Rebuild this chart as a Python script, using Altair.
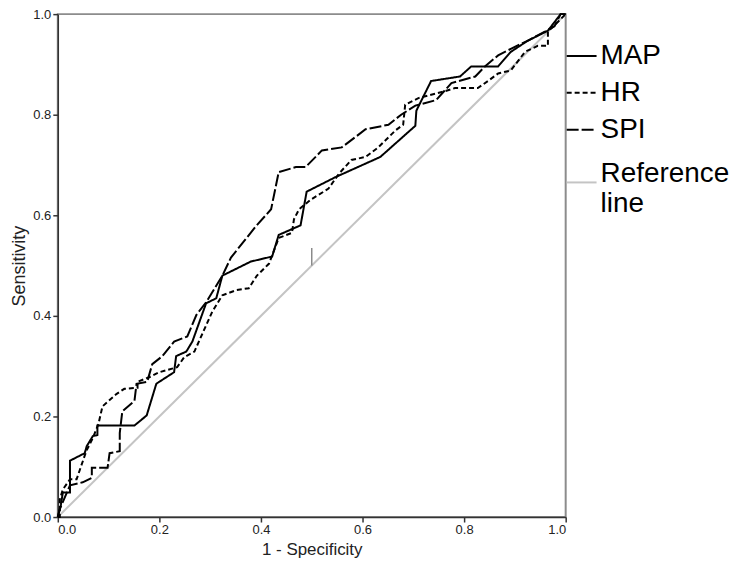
import altair as alt
import pandas as pd

# ROC curve points (1 - Specificity, Sensitivity)
map_x = [0, 0.006, 0.01, 0.024, 0.024, 0.053, 0.057, 0.069, 0.078, 0.078, 0.151, 0.175, 0.194, 0.2, 0.229,
         0.233, 0.253, 0.265, 0.292, 0.312, 0.324, 0.38, 0.422, 0.435, 0.478, 0.49, 0.547, 0.635, 0.704, 0.706,
         0.735, 0.792, 0.814, 0.867, 0.892, 0.925, 0.965, 0.99, 1.0]
map_y = [0, 0.024, 0.049, 0.049, 0.112, 0.127, 0.141, 0.161, 0.163, 0.182, 0.182, 0.202, 0.265, 0.269, 0.288,
         0.32, 0.329, 0.349, 0.425, 0.435, 0.48, 0.508, 0.518, 0.561, 0.58, 0.647, 0.676, 0.716, 0.778, 0.808,
         0.867, 0.876, 0.896, 0.896, 0.925, 0.947, 0.967, 1.0, 1.0]

hr_x = [0, 0.004, 0.004, 0.01, 0.024, 0.037, 0.053, 0.057, 0.069, 0.08, 0.088, 0.116, 0.131, 0.157, 0.157,
        0.18, 0.2, 0.235, 0.249, 0.269, 0.284, 0.304, 0.324, 0.351, 0.376, 0.392, 0.416, 0.435, 0.461, 0.465,
        0.475, 0.498, 0.533, 0.553, 0.578, 0.606, 0.631, 0.665, 0.68, 0.684, 0.71, 0.763, 0.782, 0.827, 0.847,
        0.867, 0.892, 0.92, 0.945, 0.965, 0.965, 0.984, 1.0]
hr_y = [0, 0, 0.035, 0.055, 0.075, 0.075, 0.122, 0.133, 0.157, 0.185, 0.22, 0.245, 0.255, 0.257, 0.269,
        0.278, 0.288, 0.298, 0.318, 0.329, 0.363, 0.408, 0.441, 0.451, 0.455, 0.48, 0.504, 0.555, 0.565, 0.592,
        0.612, 0.631, 0.653, 0.682, 0.71, 0.716, 0.735, 0.769, 0.78, 0.82, 0.833, 0.847, 0.853, 0.853, 0.867,
        0.882, 0.888, 0.925, 0.937, 0.937, 0.965, 0.984, 1.0]

spi_x = [0, 0.004, 0.024, 0.049, 0.067, 0.067, 0.098, 0.102, 0.122, 0.122, 0.127, 0.151, 0.155, 0.176, 0.186,
         0.206, 0.229, 0.255, 0.273, 0.292, 0.324, 0.341, 0.39, 0.42, 0.435, 0.469, 0.488, 0.52, 0.559, 0.606,
         0.651, 0.676, 0.704, 0.745, 0.775, 0.822, 0.841, 0.867, 0.892, 0.925, 0.959, 0.978, 0.99, 1.0]
spi_y = [0, 0.016, 0.063, 0.069, 0.078, 0.098, 0.098, 0.127, 0.131, 0.167, 0.21, 0.231, 0.265, 0.269, 0.304,
         0.32, 0.349, 0.359, 0.402, 0.427, 0.48, 0.516, 0.578, 0.612, 0.686, 0.696, 0.696, 0.729, 0.735, 0.771,
         0.78, 0.8, 0.818, 0.829, 0.863, 0.876, 0.896, 0.918, 0.931, 0.947, 0.965, 0.976, 1.0, 1.0]

ref_x = [0, 1]
ref_y = [0, 1]

# small marker on the reference line
mark_x = [0.5]
mark_y = [0.5]
mark_y2 = [0.535]

series_names = ["MAP", "HR", "SPI"]
series_dashes = [[1, 0], [5, 3], [12, 3]]
ref_name = "Reference line"
ref_color = "#c4c4c4"
tick_values = [0, 0.2, 0.4, 0.6, 0.8, 1.0]

rows = []
for name, xs, ys in [("MAP", map_x, map_y), ("HR", hr_x, hr_y), ("SPI", spi_x, spi_y)]:
    for i, (a, b) in enumerate(zip(xs, ys)):
        rows.append({"series": name, "fpr": a, "tpr": b, "i": i})
df = pd.DataFrame(rows)
ref_df = pd.DataFrame({"ref": [ref_name] * len(ref_x), "fpr": ref_x, "tpr": ref_y})
mark_df = pd.DataFrame({"x": mark_x, "y": mark_y, "y2": mark_y2})

xscale = alt.Scale(domain=[0, 1], nice=False)
yscale = alt.Scale(domain=[0, 1], nice=False)
narrow = "'Liberation Sans Narrow', 'Arial Narrow', 'Liberation Sans', sans-serif"

x_enc = alt.X("fpr:Q", scale=xscale,
              axis=alt.Axis(title="1 - Specificity", values=tick_values, format=".1f",
                            titlePadding=5, titleFontSize=17))
y_enc = alt.Y("tpr:Q", scale=yscale,
              axis=alt.Axis(title="Sensitivity", values=tick_values, format=".1f",
                            titlePadding=4, titleFontSize=18))

ref_line = alt.Chart(ref_df).mark_line(strokeWidth=2).encode(
    x=x_enc, y=y_enc,
    color=alt.Color("ref:N", scale=alt.Scale(domain=[ref_name], range=[ref_color]),
                    legend=alt.Legend(orient="none", legendX=510, legendY=153, title=None,
                                      symbolType="stroke", symbolSize=900, symbolStrokeWidth=2,
                                      labelFontSize=28, labelFont="Liberation Sans",
                                      labelColor="black", labelOffset=3, padding=0,
                                      labelLimit=300, labelBaseline="alphabetic",
                                      labelExpr="['Reference', 'line']")),
)

lines = alt.Chart(df).mark_line(strokeWidth=2, color="black").encode(
    x=x_enc, y=y_enc,
    strokeDash=alt.StrokeDash("series:N", scale=alt.Scale(domain=series_names, range=series_dashes),
                              legend=alt.Legend(orient="none", legendX=510, legendY=26, title=None,
                                                symbolType="stroke", symbolSize=900, symbolStrokeWidth=2,
                                                symbolStrokeColor="black",
                                                labelFontSize=28, labelFont="Liberation Sans",
                                                labelColor="black", rowPadding=7, labelOffset=3,
                                                padding=0, labelLimit=300)),
    order=alt.Order("i:Q"),
)

marker = alt.Chart(mark_df).mark_rule(color="#8a8a8a", strokeWidth=1.5).encode(
    x="x:Q", y="y:Q", y2="y2:Q"
)

chart = alt.layer(ref_line, lines, marker).properties(
    width=510, height=505,
    autosize=alt.AutoSizeParams(type="none"),
    padding={"left": 50, "top": 5, "right": 165, "bottom": 45},
).configure_view(
    stroke="#8c8c8c", strokeWidth=2
).configure_axis(
    grid=False, domainColor="#333333", domainWidth=1.5, tickColor="#333333", tickWidth=1.5,
    tickSize=5, labelFont=narrow, labelFontSize=13, labelColor="#222222",
    titleFont="Liberation Sans", titleFontWeight="normal", titleColor="#222222",
    labelPadding=2
)

chart.save("out.html", embed_options={"renderer": "svg", "actions": False})
